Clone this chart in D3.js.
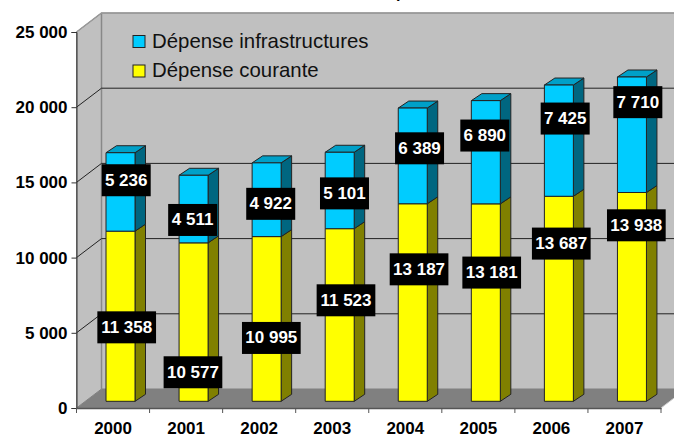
<!DOCTYPE html>
<html><head><meta charset="utf-8">
<script src="https://cdn.jsdelivr.net/npm/d3@7/dist/d3.min.js"></script>
<style>html,body{margin:0;background:#fff}svg{display:block}</style></head>
<body><svg id="c" width="674" height="435"></svg>
<script>
const years = ["2000","2001","2002","2003","2004","2005","2006","2007"];
const courante = [11358,10577,10995,11523,13187,13181,13687,13938];
const infra = [5236,4511,4922,5101,6389,6890,7425,7710];
const tickValues = [0,5000,10000,15000,20000,25000];
const seriesNames = ["Dépense infrastructures","Dépense courante"];
// hand-placed label offsets in the source chart, relative to the segment centre
const nudgeInfraX = [5.7,-0.9,4.1,4.8,6.8,-1,6.3,5.9];
const nudgeInfraY = [-11.7,10.9,4.1,2.9,-7.6,-16.7,-22.1,-32.6];
const nudgeCourX = [6.2,-0.6,4.7,6.3,6.3,5.9,2.4,4.4];
const nudgeCourY = [11.1,50.2,19,-14.7,-33.2,-30,-55.2,-71.6];

const fmt = v => d3.format(",")(v).replace(/,/g," ");
const svg = d3.select("#c");
const FONT = "'Liberation Sans',Arial,sans-serif";
const L=76.5,R=661,Y0=408,Y25=32,DX=25,DY=-19;
const x = d3.scaleBand().domain(years).range([L,R]);
const y = d3.scaleLinear().domain([0,25000]).range([Y0,Y25]);
const yb = d3.scaleLinear().domain([0,25000]).range([401.3,401.3-374.5]);
const BW=29, BOFF=29.5, BDX=10.5, BDY=-7;
const poly = (p,fill,stroke,sw) => svg.append("polygon").attr("points",p.map(a=>a.join(",")).join(" ")).attr("fill",fill).attr("stroke",stroke||"none").attr("stroke-width",sw||1);

// clipped remnant of the title, cut off by the top of the picture
svg.append("text").text("p").attr("x",396).attr("y",-2.2).attr("font-family",FONT).attr("font-size",16).attr("font-weight","bold").attr("fill","#000");

// walls and floor
poly([[L+DX,Y25+DY],[R+DX,Y25+DY],[R+DX,Y0+DY],[L+DX,Y0+DY]],"#c0c0c0","#808080");
poly([[L,Y25],[L+DX,Y25+DY],[L+DX,Y0+DY],[L,Y0]],"#c0c0c0","#808080");
poly([[L,Y0],[L+DX,Y0+DY],[R+DX,Y0+DY],[R,Y0]],"#808080");
svg.append("line").attr("x1",L+DX).attr("x2",L+DX).attr("y1",Y25+DY).attr("y2",Y0+DY).attr("stroke","#888").attr("stroke-width",1.5);

// gridlines
const grid = svg.append("g").attr("stroke","#222").attr("fill","none").attr("stroke-width",1);
tickValues.filter(v=>v>0&&v<25000).forEach(v=>{
  grid.append("path").attr("d",`M${L},${y(v)}L${L+DX},${y(v)+DY}H${R+DX}`);
});
svg.append("path").attr("d",`M${L},${y(25000)}L${L+DX},${y(25000)+DY}H${R+DX}`).attr("fill","none").attr("stroke","#999").attr("stroke-width",1.5);
svg.append("path").attr("d",`M${R},${Y0}L${R+DX},${Y0+DY}`).attr("stroke","#ccc").attr("fill","none");

// axes
const axL = svg.append("g").attr("transform",`translate(${L},0)`).call(d3.axisLeft(y).tickValues(tickValues).tickFormat(fmt).tickSize(5).tickPadding(4));
const axB = svg.append("g").attr("transform",`translate(0,${Y0})`).call(d3.axisBottom(x).tickSize(0).tickPadding(14));
[axL,axB].forEach(a=>{a.selectAll("text").attr("font-family",FONT).attr("font-size",17).attr("font-weight","bold").attr("fill","#000");
  a.selectAll("path,line").attr("stroke","#333");});
axB.select(".domain").attr("stroke","#555").attr("stroke-width",1.5);
axB.selectAll(".xt").data(years.concat(["end"])).enter().append("line").attr("stroke","#555")
  .attr("x1",(d,i)=>L+i*x.step()).attr("x2",(d,i)=>L+i*x.step()).attr("y1",0).attr("y2",5);

// bars
function bar(i,v0,v1,front,side,top,withTop){
  const x0=x(years[i])+BOFF,x1=x0+BW,a=yb(v0),b=yb(v1);
  poly([[x1,a],[x1+BDX,a+BDY],[x1+BDX,b+BDY],[x1,b]],side,"#222");
  if(withTop) poly([[x0,b],[x0+BDX,b+BDY],[x1+BDX,b+BDY],[x1,b]],top,"#222");
  poly([[x0,a],[x1,a],[x1,b],[x0,b]],front,"#222");
}
years.forEach((d,i)=>{
  bar(i,0,courante[i],"#ffff00","#808000","#a3a300",false);
  bar(i,courante[i],courante[i]+infra[i],"#00ccff","#006680","#00a0c8",true);
});

// labels
function label(cx,cy,v){
  const g=svg.append("g");
  const w=v>=10000?58.7:49;
  g.append("rect").attr("fill","#000").attr("x",cx-w/2).attr("y",cy-16).attr("width",w).attr("height",32);
  g.append("text").text(fmt(v)).attr("x",cx).attr("y",cy+5.5).attr("text-anchor","middle")
    .attr("font-family",FONT).attr("font-size",17).attr("font-weight","bold").attr("fill","#fff");
}
years.forEach((d,i)=>{
  const cx=x(d)+BOFF+BW/2;
  label(cx+nudgeCourX[i],yb(courante[i]/2)+nudgeCourY[i],courante[i]);
  label(cx+nudgeInfraX[i],yb(courante[i]+infra[i]/2)+nudgeInfraY[i],infra[i]);
});

// legend
const legendColors=["#00ccff","#ffff00"];
const lg=svg.append("g");
seriesNames.forEach((n,i)=>{
  lg.append("rect").attr("x",133).attr("y",35.5+i*29.5).attr("width",12).attr("height",12).attr("fill",legendColors[i]).attr("stroke","#222");
  lg.append("text").attr("x",152).attr("y",48+i*29.3).text(n).attr("font-family",FONT).attr("font-size",20.4).attr("fill","#111");
});
</script></body></html>
